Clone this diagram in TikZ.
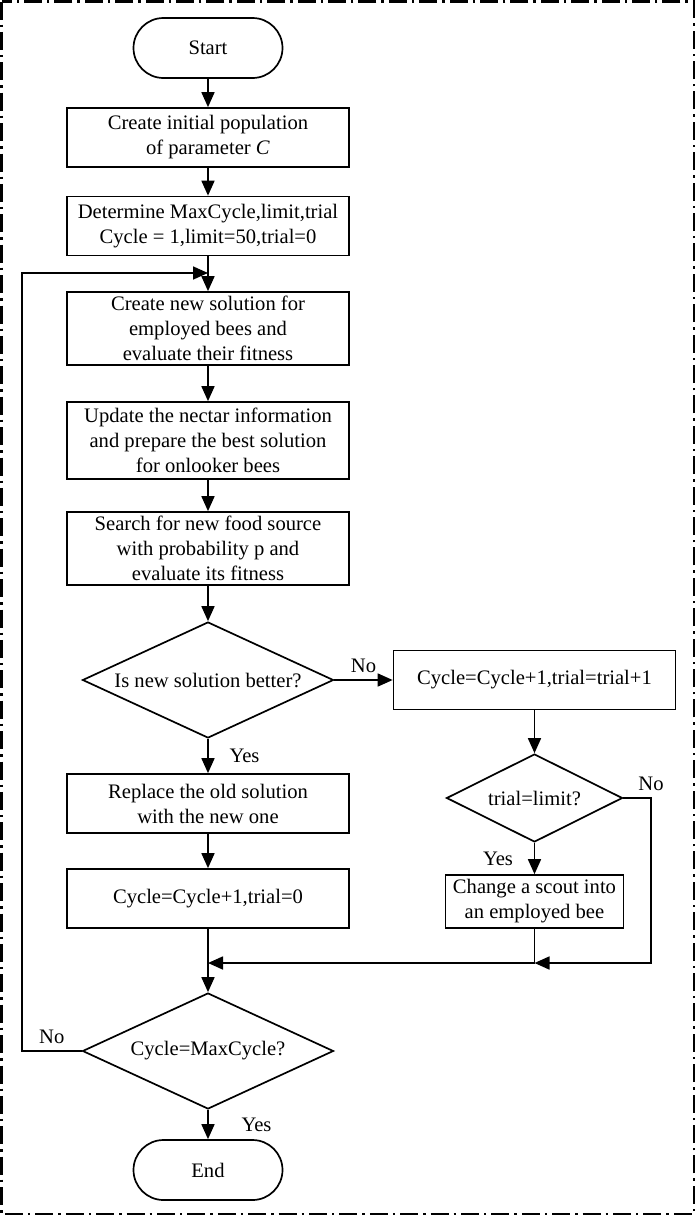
\documentclass[tikz,border=0pt]{standalone}
\usepackage{fontspec}
\setmainfont{Liberation Serif}
\usetikzlibrary{shapes.geometric,arrows.meta}

\begin{document}
\begin{tikzpicture}[x=0.5pt,y=-0.5pt,
    font=\fontsize{10.3}{12.5}\selectfont,
    line width=0.85pt,>={Triangle[length=7.5pt,width=6.5pt]},
    term/.style={draw,rounded corners=15pt,minimum width=74.5pt,minimum height=30pt},
    proc/.style={draw,align=center,minimum width=141pt,minimum height=29.5pt,inner sep=1pt},
    test/.style={draw,diamond,aspect=2.16,inner sep=0pt,minimum width=125.5pt,minimum height=58pt}]
    \useasboundingbox (0,0) rectangle (696,1216);
    \draw[line width=1.2pt,dash pattern=on 9pt off 2.5pt on 1.2pt off 2.5pt] (1.5,1.5) rectangle (694,1214);

    \node[term] (start) at (208,48) {Start};
    \node[proc] (init) at (208,137.5) {Create initial population\\of parameter \textit{C}};
    \node[proc] (param) at (208,226) {Determine MaxCycle,limit,trial\\Cycle = 1,limit=50,trial=0};
    \node[proc,minimum height=36.5pt] (employ) at (208,328.5) {Create new solution for\\employed bees and\\evaluate their fitness};
    \node[proc,minimum height=38.5pt] (update) at (208,440.5) {Update the nectar information\\and prepare the best solution\\for onlooker bees};
    \node[proc,minimum height=36.5pt] (search) at (208,548.5) {Search for new food source\\with probability p and\\evaluate its fitness};
    \node[test] (better) at (208,680) {Is new solution better?};
    \node[proc] (inc) at (534.5,680) {Cycle=Cycle+1,trial=trial+1};
    \node[proc] (replace) at (208,803.5) {Replace the old solution\\with the new one};
    \node[proc] (reset) at (208,898.5) {Cycle=Cycle+1,trial=0};
    \node[test,aspect=2,minimum width=88pt,minimum height=44pt] (limit) at (534.5,798) {trial=limit?};
    \node[proc,minimum width=89pt,minimum height=26.5pt] (scout) at (534.5,901.5) {Change a scout into\\an employed bee};
    \node[test] (maxc) at (208,1051) {Cycle=MaxCycle?};
    \node[term] (end) at (208,1170) {End};

    \coordinate (join) at (208,963);
    \coordinate (right) at (651,963);
    \coordinate (back) at (22,1051);
    \coordinate (loop) at (208,273);

    \draw[->] (start) -- (init);
    \draw[->] (init) -- (param);
    \draw[->] (param) -- (employ);
    \draw[->] (employ) -- (update);
    \draw[->] (update) -- (search);
    \draw[->] (search) -- (better);
    \draw[->] (better) -- node[above] {No} (inc);
    \draw[->] (better) -- node[right=7pt] {Yes} (replace);
    \draw[->] (replace) -- (reset);
    \draw[->] (inc) -- (limit);
    \draw[->] (limit) -- node[left=7pt] {Yes} (scout);
    \draw[->] (limit.east) -| node[above] {No} (right) -- (scout |- right);
    \draw[->] (scout) -- (scout |- right) -- (join);
    \draw[->] (reset) -- (maxc);
    \draw[->] (maxc) -- node[right=13pt] {Yes} (end);
    \draw[->] (maxc.west) -- node[above] {No} (back) |- (loop);
\end{tikzpicture}
\end{document}
